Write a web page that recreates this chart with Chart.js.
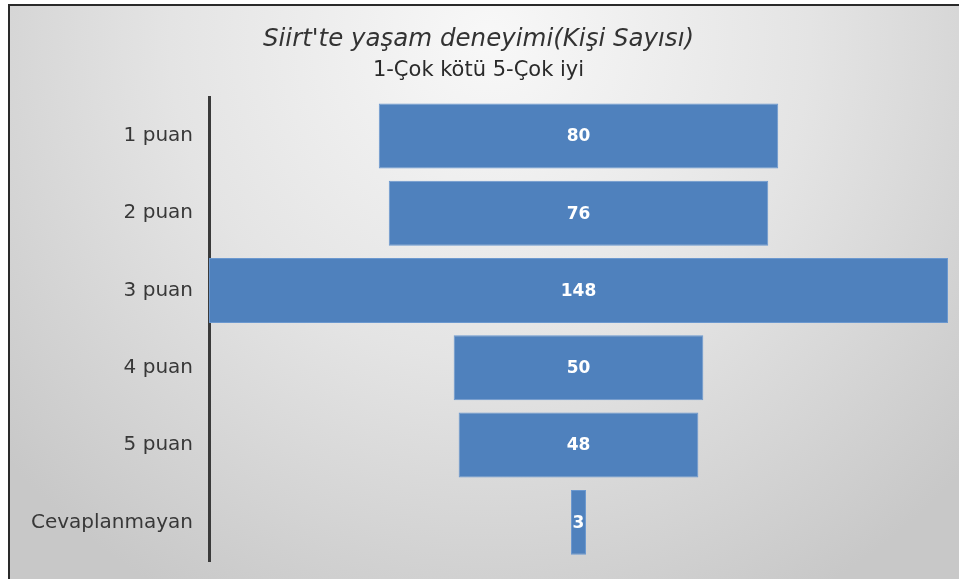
<!DOCTYPE html>
<html>
<head>
<meta charset="utf-8">
<script src="https://cdn.jsdelivr.net/npm/chart.js@4/dist/chart.umd.min.js"></script>
<style>
  html, body { margin: 0; padding: 0; background: #fff; }
  #wrap { width: 959px; height: 579px; }
</style>
</head>
<body>
<div id="wrap"><canvas id="funnel" width="959" height="579"></canvas></div>
<script>
// Siirt'te yaşam deneyimi - funnel chart
const categories = ['1 puan', '2 puan', '3 puan', '4 puan', '5 puan', 'Cevaplanmayan'];
const counts = [80, 76, 148, 50, 48, 3];

const maxCount = Math.max(...counts);
// centered floating bars make the funnel shape
const funnelData = counts.map(v => [(maxCount - v) / 2, (maxCount + v) / 2]);

const bgPlugin = {
  id: 'bg',
  beforeDraw(chart) {
    const ctx = chart.ctx;
    ctx.save();
    ctx.fillStyle = '#ffffff';
    ctx.fillRect(0, 0, chart.width, chart.height);
    let g = ctx.createRadialGradient(490, 40, 0, 490, 40, 640);
    g.addColorStop(0, '#f8f8f8');
    g.addColorStop(0.5, '#e4e4e4');
    g.addColorStop(1, '#c8c8c8');
    ctx.fillStyle = g;
    ctx.fillRect(9, 6, chart.width - 9, chart.height - 6);
    ctx.fillStyle = '#2a2a2a';
    ctx.fillRect(8, 4, chart.width - 8, 2);
    ctx.fillRect(8, 4, 2, chart.height - 4);
    ctx.restore();
  }
};

const valueLabels = {
  id: 'valueLabels',
  afterDatasetsDraw(chart) {
    const ctx = chart.ctx;
    const meta = chart.getDatasetMeta(0);
    ctx.save();
    ctx.fillStyle = '#ffffff';
    ctx.font = 'bold 17px "DejaVu Sans"';
    ctx.textAlign = 'center';
    ctx.textBaseline = 'middle';
    meta.data.forEach((bar, i) => {
      const cx = (bar.x + bar.base) / 2;
      ctx.fillText(String(counts[i]), cx, bar.y + 1);
    });
    ctx.restore();
  }
};

new Chart(document.getElementById('funnel'), {
  type: 'bar',
  data: {
    labels: categories,
    datasets: [{
      data: funnelData,
      backgroundColor: '#4f81bd',
      borderColor: '#6b98cf',
      borderWidth: 1,
      borderSkipped: false,
      barPercentage: 0.84,
      categoryPercentage: 1
    }]
  },
  options: {
    indexAxis: 'y',
    responsive: false,
    animation: false,
    layout: { padding: { top: 6, left: 9, right: 11, bottom: 18 } },
    plugins: {
      legend: { display: false },
      tooltip: { enabled: false },
      title: {
        display: true,
        text: "Siirt'te yaşam deneyimi(Kişi Sayısı)",
        color: '#333333',
        font: { family: '"DejaVu Sans"', size: 24.5, style: 'italic', weight: 'normal' },
        padding: { top: 19.3, bottom: 2 }
      },
      subtitle: {
        display: true,
        text: '1-Çok kötü 5-Çok iyi',
        color: '#2a2a2a',
        font: { family: '"DejaVu Sans"', size: 21, weight: 'normal' },
        padding: { top: 1, bottom: 14.4 }
      }
    },
    scales: {
      x: {
        display: false,
        min: 0,
        max: maxCount
      },
      y: {
        afterFit(scale) {
          scale.width = 200;
          scale.paddingTop = 0;
          scale.paddingBottom = 0;
        },
        grid: { display: false, drawTicks: false },
        border: { display: true, color: '#3a3a3a', width: 3 },
        ticks: {
          color: '#383838',
          padding: 16,
          font: { family: '"DejaVu Sans"', size: 20 }
        }
      }
    }
  },
  plugins: [bgPlugin, valueLabels]
});
</script>
</body>
</html>
